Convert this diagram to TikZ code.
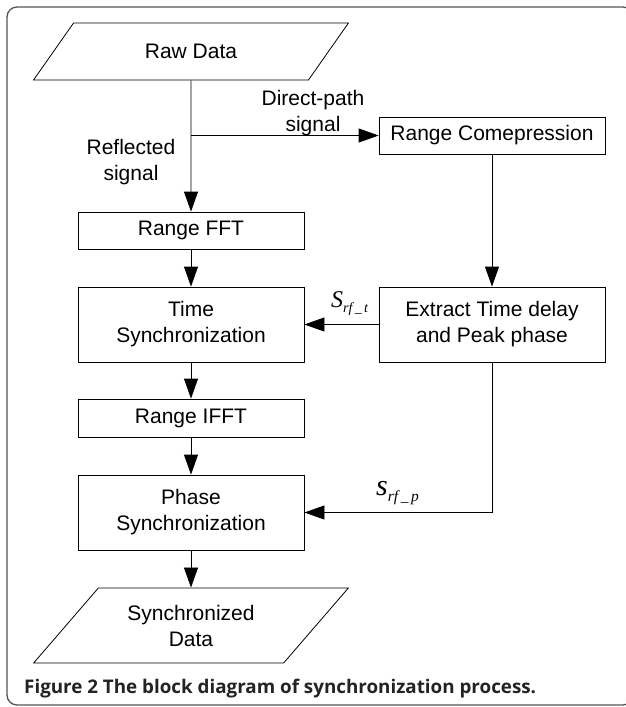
\documentclass[tikz,border=0pt]{standalone}
\usepackage{fontspec}
\setmainfont{Liberation Sans}
\newfontfamily\capfont{Open Sans}
\newfontfamily\symfont{Liberation Serif}
\usetikzlibrary{arrows.meta,positioning,shapes.geometric}
\definecolor{framegray}{RGB}{85,85,85}
\definecolor{capgray}{RGB}{35,35,35}

\tikzset{
  block/.style={draw, line width=0.8pt, rectangle, minimum width=226pt, align=center,
    inner sep=0pt, font=\fontsize{21}{26}\selectfont},
  datablock/.style={draw, line width=0.8pt, trapezium, trapezium left angle=43,
    trapezium right angle=137, trapezium stretches=true, minimum width=315pt,
    align=center, inner sep=0pt, font=\fontsize{21}{26}\selectfont},
  flow/.style={line width=0.8pt, -{Triangle[length=20pt,width=14pt]}},
  lbl/.style={align=center, inner sep=0pt, font=\fontsize{21}{26.5}\selectfont},
  sym/.style={anchor=base west, inner sep=0pt, font=\symfont\itshape},
}

\begin{document}
\begin{tikzpicture}[x=1pt,y=-1pt]
    \useasboundingbox (0,0) rectangle (625,707);

    % Frame
    \draw[framegray, line width=1.3pt, rounded corners=10pt] (7,7) rectangle (633,705);

    % Blocks, left column
    \node[datablock, minimum height=57pt] (raw) at (191,51.5) {Raw Data};
    \node[block, minimum height=37pt] (fft) at (191,230.5) {Range FFT};
    \node[block, minimum height=75pt] (timesync) at (191,324.5) {Time\\Synchronization};
    \node[block, minimum height=38pt] (ifft) at (191,418) {Range IFFT};
    \node[block, minimum height=75pt] (phasesync) at (191,512.5) {Phase\\Synchronization};
    \node[datablock, minimum height=75pt] (syncdata) at (191,625.5) {Synchronized\\Data};

    % Blocks, right column
    \node[block, minimum height=37pt] (rangecomp) at (492,135.5) {Range Comepression};
    \node[block, minimum height=75pt] (extract) at (492,324.5) {Extract Time delay\\and Peak phase};

    % Branch point
    \coordinate (split) at (raw.south |- rangecomp.west);

    % Connectors
    \draw[flow] (raw.south) -- (fft.north);
    \draw[flow] (split) -- (rangecomp.west);
    \draw[flow] (rangecomp.south) -- (extract.north);
    \draw[flow] (fft) -- (timesync);
    \draw[flow] (extract.west) -- (timesync.east);
    \draw[flow] (timesync) -- (ifft);
    \draw[flow] (ifft) -- (phasesync);
    \draw[flow] (extract.south) |- (phasesync.east);
    \draw[flow] (phasesync) -- (syncdata);

    % Labels
    \node[lbl] (reflected) at (131,162) {Reflected\\signal};
    \node[lbl] (direct) at (313,113) {Direct-path\\signal};
    \node[sym, font=\symfont\itshape\fontsize{24}{24}\selectfont] (srft) at (331,307)
        {S\raisebox{-5pt}{\fontsize{14}{14}\selectfont rf\,\_\,t}};
    \node[sym, font=\symfont\itshape\fontsize{30}{30}\selectfont] (srfp) at (376,495)
        {s\raisebox{-6pt}{\fontsize{15.5}{15.5}\selectfont rf\,\_\,p}};

    % Caption
    \node[anchor=west, inner sep=0pt, text=capgray,
          font=\capfont\bfseries\fontsize{18.8}{22}\selectfont] (caption) at (24,689)
        {Figure 2 The block diagram of synchronization process.};
\end{tikzpicture}
\end{document}
